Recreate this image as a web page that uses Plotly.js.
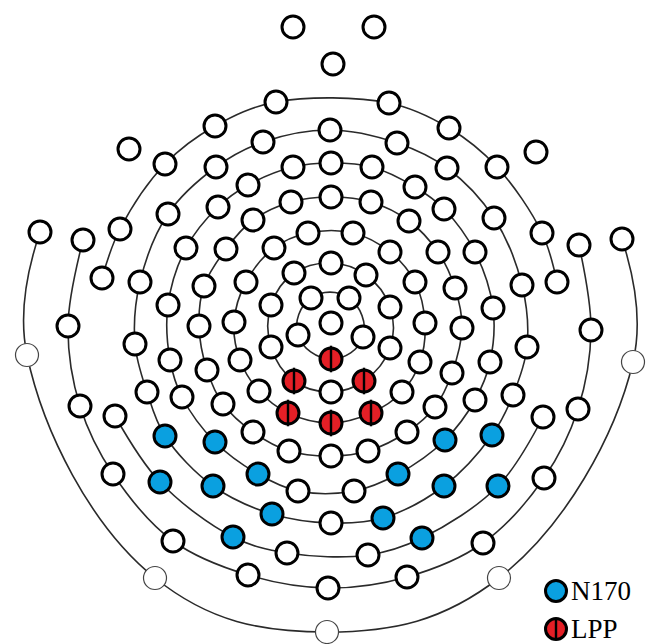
<!DOCTYPE html>
<html>
<head>
<meta charset="utf-8">
<script src="https://cdn.plot.ly/plotly-3.0.1.min.js"></script>
<style>
  html, body { margin: 0; padding: 0; background: #ffffff; }
  #chart { width: 647px; height: 644px; }
</style>
</head>
<body>
<div id="chart"></div>
<script>
// 128-channel sensor net, head-centred coordinates (x to the right, y towards the nose).
// Electrode type codes: n = plain sensor, b = N170 cluster, r = LPP cluster, t = outer reference ring.

const centreX = [0];
const centreY = [3];
const centreType = ['n'];

const ring1X = [-20, 18, 32, 0, -33];
const ring1Y = [28, 28, -11, -33, -9];
const ring1Type = ['n', 'n', 'n', 'r', 'n'];

const ring2X = [0, 35, 59, 59, 33, 0, -37, -60, -60, -37];
const ring2Y = [63, 51, 19, -22, -55, -66, -55, -21, 21, 53];
const ring2Type = ['n', 'n', 'n', 'n', 'r', 'n', 'r', 'n', 'n', 'n'];

const ring3X = [-23, 22, 59, 84, 94, 89, 71, 40, 0, -43, -72, -91, -97, -85, -57];
const ring3Y = [93, 93, 74, 44, 3, -36, -66, -87, -97, -87, -65, -34, 4, 44, 78];
const ring3Type = ['n', 'n', 'n', 'n', 'n', 'n', 'n', 'r', 'r', 'r', 'n', 'n', 'n', 'n', 'n'];

const ring4X = [0, 40, 78, 107, 124, 131, 121, 104, 76, 37, 0, -42, -78, -108, -124, -132, -127, -105, -78, -40];
const ring4Y = [129, 124, 105, 74, 38, -2, -47, -81, -106, -125, -130, -125, -106, -78, -44, 0, 40, 77, 106, 124];
const ring4Type = ['n', 'n', 'n', 'n', 'n', 'n', 'n', 'n', 'n', 'n', 'n', 'n', 'n', 'n', 'n', 'n', 'n', 'n', 'n', 'n'];

const ring5X = [0, 41, 84, 113, 144, 162, 159, 144, 114, 67, 23, -33, -73, -116, -149, -161, -163, -145, -113, -83, -38];
const ring5Y = [163, 159, 139, 117, 74, 18, -36, -74, -114, -148, -165, -165, -148, -116, -71, -34, 21, 78, 119, 141, 159];
const ring5Type = ['n', 'n', 'n', 'n', 'n', 'n', 'n', 'n', 'b', 'b', 'n', 'n', 'b', 'b', 'n', 'n', 'n', 'n', 'n', 'n', 'n'];

const ring6X = [-1, 66, 116, 163, 191, 196, 182, 161, 113, 52, 0, -59, -118, -166, -184, -196, -191, -163, -115, -68];
const ring6Y = [196, 183, 158, 108, 41, -21, -69, -109, -160, -192, -197, -188, -160, -110, -66, -18, 44, 112, 159, 184];
const ring6Type = ['n', 'n', 'n', 'n', 'n', 'n', 'n', 'b', 'b', 'b', 'n', 'b', 'b', 'b', 'n', 'n', 'n', 'n', 'n', 'n'];

// ring 7 is broken over each ear: a frontal arc and an occipital arc
const ring7FrontX = [-229, -211, -166, -116, -55, 58, 118, 166, 211, 226];
const ring7FrontY = [48, 97, 162, 200, 224, 223, 198, 159, 93, 44];
const ring7FrontType = ['n', 'n', 'n', 'n', 'n', 'n', 'n', 'n', 'n', 'n'];

const ring7BackX = [-216, -171, -98, -44, 37, 91, 167, 212];
const ring7BackY = [-90, -156, -211, -227, -229, -212, -160, -91];
const ring7BackType = ['n', 'b', 'b', 'n', 'n', 'b', 'b', 'n'];

const ring8X = [-248, -263, -251, -218, -158, -83, -3, 76, 152, 213, 247, 260, 248];
const ring8Y = [86, 0, -80, -148, -215, -249, -262, -251, -217, -152, -83, -4, 81];
const ring8Type = ['n', 'n', 'n', 'n', 'n', 'n', 'n', 'n', 'n', 'n', 'n', 'n', 'n'];

const ring9X = [-291, -304, -176, -4, 168, 302, 291];
const ring9Y = [94, -29, -252, -306, -252, -36, 87];
const ring9Type = ['n', 't', 't', 't', 't', 't', 'n'];

// face and cheek sensors, not joined to any ring
const looseX = [-38, 43, 2, -202, 205];
const looseY = [299, 299, 262, 177, 174];
const looseType = ['n', 'n', 'n', 'n', 'n'];

const legendLabels = ['N170', 'LPP'];

const rings = [
  { x: ring1X, y: ring1Y, type: ring1Type, closed: true, smooth: 1.3 },
  { x: ring2X, y: ring2Y, type: ring2Type, closed: true, smooth: 1.1 },
  { x: ring3X, y: ring3Y, type: ring3Type, closed: true, smooth: 1 },
  { x: ring4X, y: ring4Y, type: ring4Type, closed: true, smooth: 1 },
  { x: ring5X, y: ring5Y, type: ring5Type, closed: true, smooth: 1 },
  { x: ring6X, y: ring6Y, type: ring6Type, closed: true, smooth: 1 },
  { x: ring7FrontX, y: ring7FrontY, type: ring7FrontType, closed: false, smooth: 1 },
  { x: ring7BackX, y: ring7BackY, type: ring7BackType, closed: false, smooth: 1 },
  { x: ring8X, y: ring8Y, type: ring8Type, closed: false, smooth: 1 },
  { x: ring9X, y: ring9Y, type: ring9Type, closed: false, smooth: 1.15 }
];
const loose = [
  { x: centreX, y: centreY, type: centreType },
  { x: looseX, y: looseY, type: looseType }
];

const COLORS = { blue: '#0aa0e0', red: '#e41f26', ink: '#000000', wire: '#2a2a2a' };

const traces = [];

// connecting wires drawn first so the sensors sit on top
rings.forEach(function (r) {
  const xs = r.x.slice(), ys = r.y.slice();
  if (r.closed) { xs.push(r.x[0]); ys.push(r.y[0]); }
  traces.push({
    type: 'scatter', mode: 'lines', x: xs, y: ys,
    line: { shape: 'spline', smoothing: r.smooth, color: COLORS.wire, width: 1.6 },
    hoverinfo: 'skip'
  });
});

// gather sensors by type
const groups = { n: { x: [], y: [] }, b: { x: [], y: [] }, r: { x: [], y: [] }, t: { x: [], y: [] } };
rings.concat(loose).forEach(function (r) {
  r.type.forEach(function (t, i) { groups[t].x.push(r.x[i]); groups[t].y.push(r.y[i]); });
});

function sensorTrace(g, fill, lineColor, lineWidth, size) {
  return {
    type: 'scatter', mode: 'markers', x: g.x, y: g.y,
    marker: { symbol: 'circle', size: size, color: fill, line: { color: lineColor, width: lineWidth } },
    hoverinfo: 'skip'
  };
}

traces.push(sensorTrace(groups.t, '#ffffff', '#444444', 1.2, 23));
traces.push(sensorTrace(groups.n, '#ffffff', COLORS.ink, 3, 22));
traces.push(sensorTrace(groups.b, COLORS.blue, COLORS.ink, 3, 22));
traces.push(sensorTrace(groups.r, COLORS.red, COLORS.ink, 3, 22));
// split bar across each LPP sensor
traces.push({
  type: 'scatter', mode: 'markers', x: groups.r.x, y: groups.r.y,
  marker: { symbol: 'line-ns', size: 19, color: COLORS.ink, line: { color: COLORS.ink, width: 2.4 } },
  hoverinfo: 'skip'
});

// hand-made key in the lower right corner
const keyX = 556 / 647;
const keyRows = [1 - 591 / 644, 1 - 629 / 644];
const keyFills = [COLORS.blue, COLORS.red];
const shapes = [];
const annotations = [];
keyRows.forEach(function (yy, i) {
  shapes.push({
    type: 'circle', xref: 'paper', yref: 'paper', xsizemode: 'pixel', ysizemode: 'pixel',
    xanchor: keyX, yanchor: yy, x0: -10.5, x1: 10.5, y0: -10.5, y1: 10.5,
    fillcolor: keyFills[i], line: { color: COLORS.ink, width: 3 }
  });
  if (i === 1) {
    shapes.push({
      type: 'line', xref: 'paper', yref: 'paper', xsizemode: 'pixel', ysizemode: 'pixel',
      xanchor: keyX, yanchor: yy, x0: 0, x1: 0, y0: -9.5, y1: 9.5,
      line: { color: COLORS.ink, width: 2.4 }
    });
  }
  annotations.push({
    xref: 'paper', yref: 'paper', x: 569 / 647, y: yy, xanchor: 'left', yanchor: 'middle',
    text: legendLabels[i], showarrow: false,
    font: { family: 'Liberation Serif, Times New Roman, serif', size: 27, color: '#000000' }
  });
});

const layout = {
  width: 647, height: 644,
  margin: { l: 0, r: 0, t: 0, b: 0 },
  paper_bgcolor: '#ffffff', plot_bgcolor: '#ffffff',
  showlegend: false,
  xaxis: { range: [-331, 316], visible: false, fixedrange: true },
  yaxis: { range: [-318, 326], visible: false, fixedrange: true },
  shapes: shapes,
  annotations: annotations
};

Plotly.newPlot('chart', traces, layout, { staticPlot: true, displayModeBar: false });
</script>
</body>
</html>
